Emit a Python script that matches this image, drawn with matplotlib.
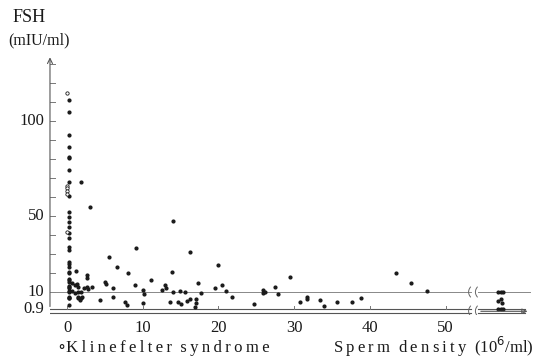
import numpy as np
import matplotlib
matplotlib.use('Agg')
import matplotlib.pyplot as plt

plt.rcParams['font.family'] = ['Liberation Serif', 'DejaVu Serif']

# FSH values of the azoospermic patients (density 0), filled dots
zero_fsh = [111, 105, 92.6, 86.5, 81, 80.5, 74, 68, 60.5, 52, 49.6, 47, 44.4, 41,
            38.4, 33.8, 32, 26, 24.5, 23.4, 20.7, 19.8, 17, 16.3, 15.4, 13, 12.5,
            11.9, 10.3, 9.8, 7.3, 7, 6.8, 3.2]
# Klinefelter syndrome (open circles), all at density 0
kf_fsh = [115, 66, 64.5, 63, 61.5, 41.7]

# oligo / normospermic patients: sperm density, FSH
dens = [0.6, 1.05, 1.3, 1.2, 1.8, 2.6, 2.6, 1.5, 2.2, 2.6, 2.8, 3.3, 0.6, 1.05,
        1.5, 1.9, 1.7, 1.5, 1.9, 1.4, 2.0, 3.1, 4.4,
        5.5, 5.0, 5.2, 6.1, 6.6, 6.1, 7.7, 7.9, 8.0, 9.1, 9.0, 10.0, 10.2, 10.1,
        11.1, 12.5, 13.0, 13.1, 13.6, 14.0, 13.9, 14.0, 14.9, 15.6, 14.7, 15.1,
        15.9, 16.2, 17.0, 17.1, 16.9, 16.2, 17.3, 17.7, 19.5, 20.0, 20.5, 21.0,
        21.8, 24.7, 25.9, 25.9, 26.2, 27.5, 27.9, 29.5, 30.8, 31.7, 31.7, 33.4,
        33.9, 35.7, 37.7, 38.8, 43.5, 45.4, 47.6]
fsh = [14.5, 13.8, 14.2, 21.2, 68, 19, 17.2, 12.6, 12.2, 12.8, 11.8, 12.4, 10.3, 9.7,
       10.2, 10.2, 5.8, 6.7, 7, 7.4, 7.5, 54.6, 5.8,
       28.6, 15.4, 14, 12, 23, 7.2, 4.9, 3.2, 19.8, 33, 13.7, 11, 9.0, 4.4,
       16.3, 11, 13.7, 12, 4.9, 47.4, 20.7, 10.2, 10.5, 10, 4.9, 3.7,
       5.4, 6.2, 6.2, 4, 2.3, 30.9, 14.9, 9.6, 12.3, 24.2, 13.8, 10.5,
       7.5, 3.5, 11, 9.4, 10.2, 12.8, 8.8, 18, 4.9, 7.5, 6.2, 5.8,
       2.6, 4.9, 4.9, 6.7, 20.2, 14.6, 10.5]

# beyond the axis break (high density)
far_x = [56.9, 57.3, 57.6, 56.9, 57.3, 57.4, 56.9, 57.3, 57.6]
far_y = [10, 10, 10, 5.4, 6.2, 4, 1, 1, 1]

xticks = [0, 10, 20, 30, 40, 50]
ylabels = {100: '100', 50: '50', 10: '10', 0.9: '0.9'}


def spaced(s):
    # old typesetting: letter-spaced captions
    return '\u2009'.join(s)


fig = plt.figure(figsize=(5.38, 3.59), dpi=100)
ax = fig.add_axes([0.0929, 0.1231, 0.897, 0.725])
ax.set_xlim(-2.25, 61.5)
ax.set_ylim(-2, 135)
ax.axis('off')

ink = '#1a1a1a'
# y axis with arrow
ax.annotate('', xy=(-2.25, 135), xytext=(-2.25, 0.9),
            arrowprops=dict(arrowstyle='->', color='#555', lw=0.8,
                            mutation_scale=9))
for t in range(10, 131, 10):
    ax.plot([-2.25, -1.55], [t, t], color='#777', lw=0.7)
for v, s in ylabels.items():
    ax.text(-3.0, v, s, ha='right', va='center', fontsize=12, color=ink)

# x axis: double line, gap for the break
brk = 53.4
for yy in (0.9, -1.2):
    ax.plot([-2.25, brk], [yy, yy], color='#555', lw=0.8)
ax.plot([brk + 0.9, 60.5], [0.9, 0.9], color='#555', lw=0.8)
ax.annotate('', xy=(61.2, -0.15), xytext=(brk + 0.9, -0.15),
            arrowprops=dict(arrowstyle='-|>', color='#555', lw=0.8,
                            mutation_scale=8, fill=False))
ax.plot([brk + 0.9, 60.5], [-1.2, -1.2], color='#555', lw=0.8)
for t in xticks:
    ax.plot([t, t], [0.9, 2.8], color='#777', lw=0.7)
    ax.text(t, -4.5, str(t), ha='center', va='top', fontsize=12, color=ink)

# reference line at 10
ax.plot([-2.25, brk], [10, 10], color='#888', lw=0.7)
ax.plot([brk + 0.9, 61.2], [10, 10], color='#888', lw=0.7)

# break marks
tt = np.linspace(-1, 1, 20)
for yc in (10, 0):
    for dx in (0, 0.9):
        ax.plot(brk - 0.1 + dx - 0.25 * (1 - tt ** 2), yc + 2.6 * tt,
                color='#666', lw=0.7)

ms = 2.0
ax.plot(np.zeros(len(zero_fsh)) + 0.2, zero_fsh, 'o', ms=ms, color=ink, mec=ink)
ax.plot(np.zeros(len(kf_fsh)), kf_fsh, 'o', ms=2.4, mfc='white', mec=ink, mew=0.6)
ax.plot(dens, fsh, 'o', ms=ms, color=ink, mec=ink)
ax.plot(far_x, far_y, 'o', ms=ms, color=ink, mec=ink)

fig.text(13 / 538, 1 - 18 / 359, 'FSH', fontsize=13, color=ink, va='center')
fig.text(8 / 538, 1 - 40 / 359, '(mIU/ml)', fontsize=11.5, color=ink, va='center')
fig.text(58 / 538, 1 - 348 / 359, '\u2218' + spaced('Klinefelter') + '  ' + spaced('syndrome'),
         fontsize=12, color=ink, va='center')
fig.text(534 / 538, 1 - 347 / 359,
         spaced('Sperm') + '  ' + spaced('density') + '  (10$^6$/ml)',
         fontsize=12, color=ink, va='center', ha='right')

fig.savefig('out.png', dpi=100, facecolor='white')
